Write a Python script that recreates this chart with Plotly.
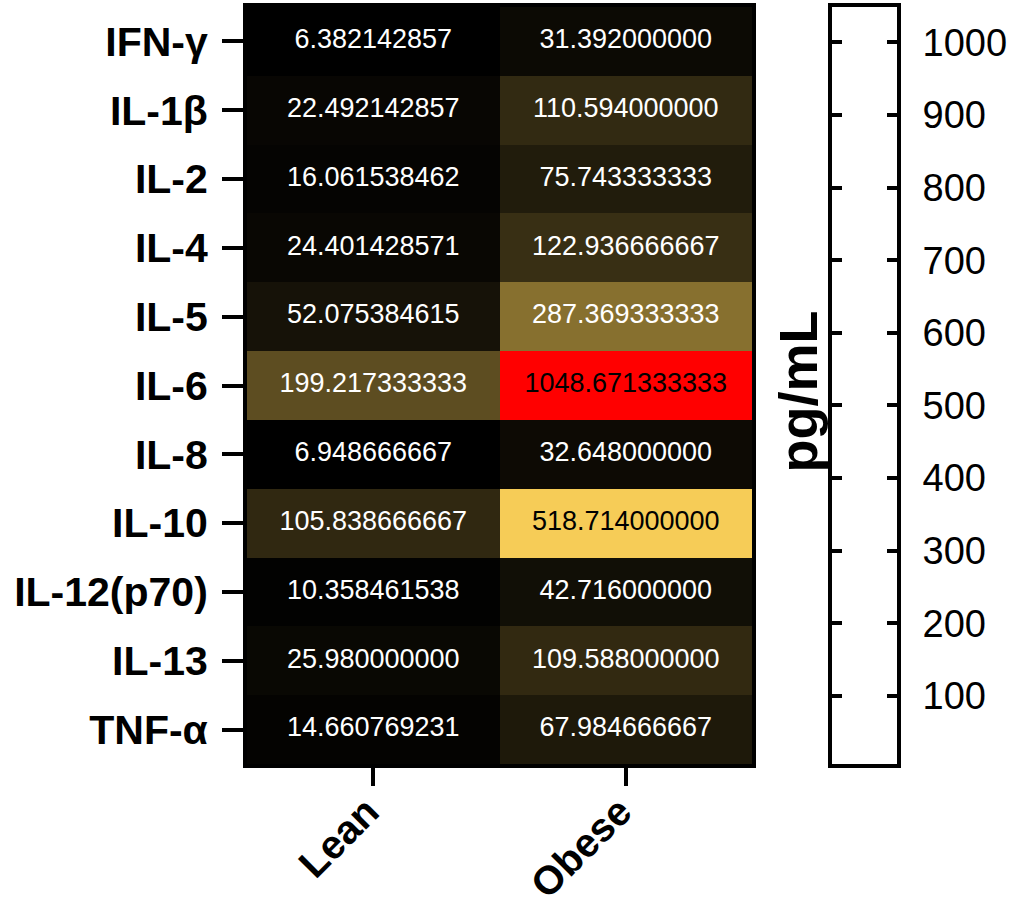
import plotly.graph_objects as go

# Cytokine concentrations (pg/mL), mean per group
cytokines = ["IFN-γ", "IL-1β", "IL-2", "IL-4", "IL-5", "IL-6", "IL-8",
             "IL-10", "IL-12(p70)", "IL-13", "TNF-α"]
groups = ["Lean", "Obese"]
lean = [6.382142857, 22.492142857, 16.061538462, 24.401428571, 52.075384615,
        199.217333333, 6.948666667, 105.838666667, 10.358461538, 25.980000000,
        14.660769231]
obese = [31.392000000, 110.594000000, 75.743333333, 122.936666667,
         287.369333333, 1048.671333333, 32.648000000, 518.714000000,
         42.716000000, 109.588000000, 67.984666667]
scale_ticks = [100, 200, 300, 400, 500, 600, 700, 800, 900, 1000]

z = [[a, b] for a, b in zip(lean, obese)]
all_vals = lean + obese
zmin, zmax = min(all_vals), max(all_vals)
zmid = (zmin + zmax) / 2

FONT = "Liberation Sans, Arial, sans-serif"

fig = go.Figure()

fig.add_trace(go.Heatmap(
    z=z, x=groups, y=cytokines,
    zmin=zmin, zmax=zmax,
    colorscale=[[0.0, "#000000"], [0.5, "#FAD058"], [1.0, "#FF0000"]],
    showscale=False,
    xaxis="x", yaxis="y",
    hoverinfo="skip",
))

# Cell value labels: dark text on bright cells, white elsewhere
txt_x, txt_y, txt_s, txt_c = [], [], [], []
for name, row in zip(cytokines, z):
    for g, v in zip(groups, row):
        txt_x.append(g)
        txt_y.append(name)
        txt_s.append(f"{v:.9f}")
        txt_c.append("black" if v > zmid - 20 else "white")

fig.add_trace(go.Scatter(
    x=txt_x, y=txt_y, text=txt_s, mode="text",
    textfont=dict(family=FONT, size=27, color=txt_c),
    textposition="middle center",
    showlegend=False, hoverinfo="skip",
    xaxis="x", yaxis="y",
))

# Scale bar drawn as a separate narrow panel with its own value axis
fig.add_trace(go.Scatter(
    x=[0, 1], y=[zmin, zmax], mode="markers",
    marker=dict(opacity=0), showlegend=False, hoverinfo="skip",
    xaxis="x2", yaxis="y2",
))

W_MAIN = 505.0
W_TOTAL = 650.0
n_rows = len(cytokines)

fig.update_layout(
    width=1024, height=916,
    margin=dict(l=247, r=127, t=7, b=152),
    paper_bgcolor="white", plot_bgcolor="white",
    showlegend=False,
    font=dict(family=FONT, color="black"),
    xaxis=dict(
        domain=[0, W_MAIN / W_TOTAL],
        type="category", categoryorder="array", categoryarray=groups,
        range=[-0.5, len(groups) - 0.5], automargin=False,
        showline=True, linewidth=4, linecolor="black", mirror=True,
        ticks="outside", ticklen=18, tickwidth=4, tickcolor="black",
        tickangle=-45, ticklabelstandoff=-14, ticklabelshift=-6,
        tickfont=dict(family=FONT, size=40, weight="bold", color="black"),
        showgrid=False, zeroline=False, fixedrange=True,
    ),
    yaxis=dict(
        domain=[0, 1],
        type="category", categoryorder="array", categoryarray=cytokines,
        range=[n_rows - 0.5, -0.5], automargin=False,
        showline=True, linewidth=4, linecolor="black", mirror=True,
        ticks="outside", ticklen=21, tickwidth=4, tickcolor="black",
        ticklabelstandoff=6,
        tickfont=dict(family=FONT, size=41, weight="bold", color="black"),
        showgrid=False, zeroline=False, fixedrange=True,
    ),
    xaxis2=dict(
        domain=[(832 - 247) / W_TOTAL, 1.0],
        anchor="y2", range=[0, 1], automargin=False,
        showline=True, linewidth=4, linecolor="black", mirror=True,
        showticklabels=False, ticks="", showgrid=False, zeroline=False,
        fixedrange=True,
    ),
    yaxis2=dict(
        domain=[0, 1], anchor="x2", side="right",
        range=[zmin, zmax], automargin=False,
        tickmode="array", tickvals=scale_ticks,
        showline=True, linewidth=4, linecolor="black", mirror="ticks",
        ticks="inside", ticklen=10, tickwidth=4, tickcolor="black",
        ticklabelstandoff=14,
        tickfont=dict(family=FONT, size=38, color="black"),
        showgrid=False, zeroline=False, fixedrange=True,
    ),
    annotations=[dict(
        text="pg/mL", textangle=-90,
        xref="paper", yref="paper",
        x=(832 - 247) / W_TOTAL, y=0.492,
        xanchor="right", yanchor="middle", xshift=-2,
        showarrow=False,
        font=dict(family=FONT, size=54, weight="bold", color="black"),
    )],
)

fig.write_html("out.html")
